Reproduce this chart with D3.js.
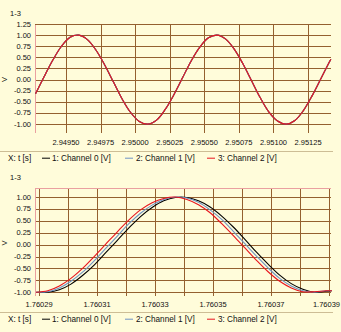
<!DOCTYPE html>
<html><head><meta charset="utf-8">
<script src="https://cdn.jsdelivr.net/npm/d3@7"></script>
<style>
html,body{margin:0;padding:0;background:#fffcda;}
svg{display:block;}
text{font-family:"Liberation Sans",Arial,sans-serif;fill:#111;}
</style></head>
<body>
<svg id="chart" width="341" height="332"></svg>
<script>
// ---------- data ----------
const topTime = [2.9492800,2.9493425,2.9494050,2.9494675,2.9495300,2.9495925,2.9496550,2.9497175,2.9497800,2.9498425,
  2.9499050,2.9499675,2.9500300,2.9500925,2.9501550,2.9502175,2.9502800,2.9503425,2.9504050,2.9504675,
  2.9505300,2.9505925,2.9506550,2.9507175,2.9507800,2.9508425,2.9509050,2.9509675,2.9510300,2.9510925,
  2.9511550,2.9512175,2.9512800,2.9513425,2.9514050,2.9514150];
const topCh0 = [-0.32,0.07,0.44,0.75,0.95,1.00,0.90,0.66,0.33,-0.05,-0.43,-0.74,-0.94,-1.00,-0.91,-0.67,-0.34,0.04,0.42,0.73,
  0.94,1.00,0.91,0.68,0.35,-0.03,-0.41,-0.73,-0.93,-1.00,-0.92,-0.69,-0.36,0.02,0.40,0.46];
const topCh1 = topCh0.slice();
const topCh2 = topCh0.slice();
const topXTicks = [2.94950,2.94975,2.95000,2.95025,2.95050,2.95075,2.95100,2.95125];
const topYTicks = [1.25,1.00,0.75,0.50,0.25,0.00,-0.25,-0.50,-0.75,-1.00];

const botTime = [1.760289,1.760293,1.760297,1.760301,1.760305,1.760309,1.760313,1.760317,1.760321,1.760325,
  1.760329,1.760333,1.760337,1.760341,1.760345,1.760349,1.760353,1.760357,1.760361,1.760365,
  1.760369,1.760373,1.760377,1.760381,1.760385,1.760389,1.760391];
const botCh0 = [-1.00,-1.00,-0.95,-0.83,-0.65,-0.43,-0.17,0.09,0.35,0.59,0.78,0.92,0.99,0.99,0.92,0.79,0.60,0.37,0.11,-0.16,
  -0.41,-0.64,-0.82,-0.94,-1.00,-0.98,-0.97];
const botCh1 = [-1.00,-0.99,-0.91,-0.77,-0.58,-0.34,-0.08,0.18,0.44,0.66,0.83,0.95,1.00,0.98,0.89,0.73,0.53,0.28,0.02,-0.24,
  -0.49,-0.71,-0.87,-0.97,-1.00,-0.97,-0.97];
const botCh2 = [-1.00,-0.97,-0.87,-0.71,-0.50,-0.25,0.01,0.27,0.52,0.73,0.88,0.97,1.00,0.95,0.84,0.67,0.44,0.19,-0.07,-0.33,
  -0.57,-0.77,-0.91,-0.99,-0.99,-0.97,-0.97];
const botXMajor = [1.76029,1.76031,1.76033,1.76035,1.76037,1.76039];
const botXGrid = [1.76029,1.76030,1.76031,1.76032,1.76033,1.76034,1.76035,1.76036,1.76037,1.76038,1.76039];
const botYTicks = [1.00,0.75,0.50,0.25,0.00,-0.25,-0.50,-0.75,-1.00];

const legendItems = ["X: t [s]","1: Channel 0 [V]","2: Channel 1 [V]","3: Channel 2 [V]"];
const seriesColors = ["#000000","#6f93c4","#e8141e"];
const groupLabel = "1-3";
const yLabel = "V";

// ---------- drawing ----------
const svg = d3.select("#chart");
const gridColor = "#94602f";
const borderColor = "#eaa0a0";

function panel(cfg){
  const g = svg.append("g");
  const x = d3.scaleLinear().domain(cfg.xDomain).range([35, 331]);
  const y = d3.scaleLinear().domain(cfg.yDomain).range([cfg.bottom, cfg.top]);
  const cr = v => Math.round(v) + 0.5;
  g.selectAll(".hg").data(cfg.yTicks).join("line")
    .attr("x1",35).attr("x2",331).attr("y1",d=>cr(y(d))).attr("y2",d=>cr(y(d)))
    .attr("stroke",gridColor).attr("stroke-width",1);
  g.selectAll(".vg").data(cfg.xGrid).join("line")
    .attr("x1",d=>cr(x(d))).attr("x2",d=>cr(x(d))).attr("y1",cfg.top).attr("y2",cfg.bottom)
    .attr("stroke",gridColor).attr("stroke-width",1);
  g.append("line").attr("x1",35.5).attr("x2",35.5).attr("y1",cfg.top).attr("y2",cfg.bottom)
    .attr("stroke",borderColor);
  g.append("line").attr("x1",35).attr("x2",331).attr("y1",cfg.top+0.5).attr("y2",cfg.top+0.5)
    .attr("stroke",cfg.topBorder||borderColor);
  g.selectAll(".yl").data(cfg.yTicks).join("text")
    .attr("x",31).attr("y",d=>y(d)+2.5).attr("text-anchor","end")
    .attr("font-size","7.5px").text(d=>d.toFixed(2));
  const n = cfg.xTicks.length;
  g.selectAll(".xl").data(cfg.xTicks).join("text")
    .attr("x",(d,i)=> (cfg.clipLast && i===n-1) ? 340 : x(d))
    .attr("y",cfg.xLabelY)
    .attr("text-anchor",(d,i)=> (cfg.clipLast && i===n-1) ? "end" : "middle")
    .attr("font-size","7.5px").text(d=>d.toFixed(5));
  const line = d3.line().x(d=>x(d[0])).y(d=>y(d[1])).curve(d3.curveCatmullRom.alpha(0.5));
  cfg.series.forEach((vals,i)=>{
    g.append("path").datum(cfg.time.map((t,j)=>[t,vals[j]]))
      .attr("d",line).attr("fill","none").attr("stroke",seriesColors[i]).attr("stroke-width",1.1);
  });
  g.append("text").attr("x",10).attr("y",cfg.top-8).attr("font-size","7.5px").text(groupLabel);
  g.append("text").attr("transform",`translate(7,${(cfg.top+cfg.bottom)/2+1}) rotate(-90)`)
    .attr("text-anchor","middle").attr("font-size","7.5px").text(yLabel);
  g.append("line").attr("x1",0).attr("x2",333).attr("y1",cfg.sepY+0.5).attr("y2",cfg.sepY+0.5)
    .attr("stroke","#cdbd95");
  const ly = cfg.sepY+10;
  const lx = [8,52,136,218];
  const dx = [42,125,207];
  legendItems.forEach((s,i)=>{
    g.append("text").attr("x",lx[i]).attr("y",ly).attr("font-size","8.2px").text(s);
  });
  dx.forEach((d,i)=>{
    g.append("line").attr("x1",d).attr("x2",d+8).attr("y1",ly-2.8).attr("y2",ly-2.8)
      .attr("stroke",seriesColors[i]).attr("stroke-width",1);
  });
}

panel({xDomain:[2.949276,2.951416], yDomain:[-1.2,1.25], top:24, bottom:133,
  yTicks:topYTicks, xGrid:topXTicks, xTicks:topXTicks, xLabelY:145,
  time:topTime, series:[topCh0,topCh1,topCh2], sepY:151, topBorder:gridColor});
panel({xDomain:[1.7602886,1.7603907], yDomain:[-1.08,1.19], top:188, bottom:296,
  yTicks:botYTicks, xGrid:botXGrid, xTicks:botXMajor, xLabelY:307, clipLast:true,
  time:botTime, series:[botCh0,botCh1,botCh2], sepY:312});
</script>
</body></html>
